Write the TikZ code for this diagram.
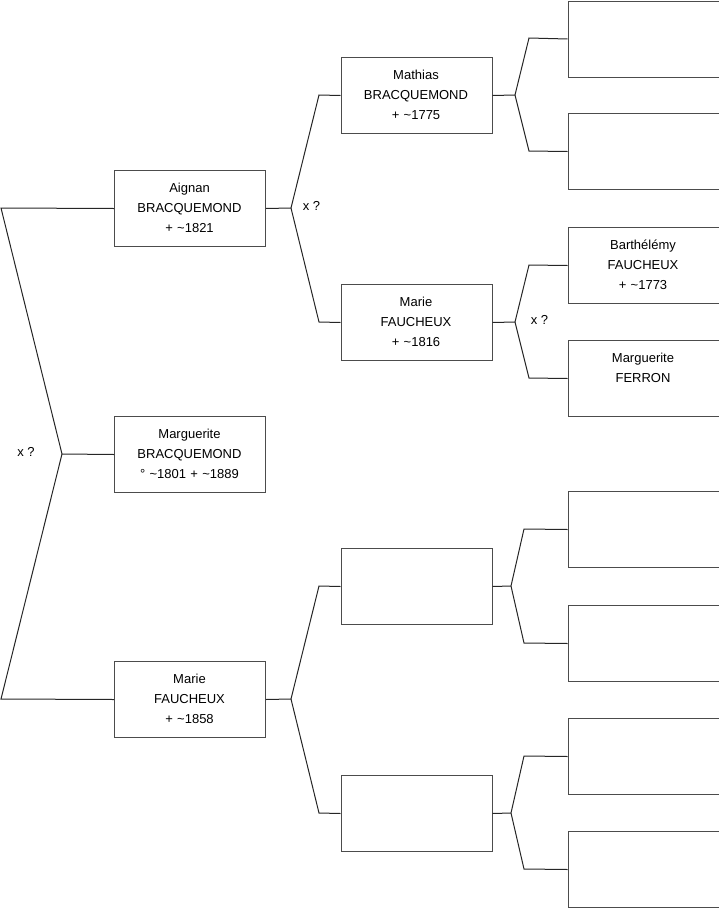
\documentclass[tikz,border=0pt]{standalone}
\usepackage{fontspec}
\setmainfont{Liberation Sans}
\begin{document}
\begin{tikzpicture}[x=1pt,y=-1pt,
  box/.style={draw=black!70, line width=1pt, minimum width=151pt, minimum height=76pt, inner sep=0pt, anchor=north west},
  txt/.style={font=\fontsize{13}{20}\selectfont, align=center, text width=150pt, inner sep=0pt, anchor=base},
  link/.style={draw=black!85, line width=1pt},
  lbl/.style={font=\fontsize{13}{16}\selectfont, inner sep=0pt, anchor=base}]
\useasboundingbox (0,0) rectangle (719,908);
% column 1
\node[box] (aignan) at (114,170) {};
\node[txt] (aignant) at (189.5,192.5) {Aignan\\BRACQUEMOND\\+ \textasciitilde1821};
\node[box] (marg) at (114,416) {};
\node[txt] (margt) at (189.5,438.5) {Marguerite\\BRACQUEMOND\\\textdegree\ \textasciitilde1801 + \textasciitilde1889};
\node[box] (marie) at (114,661) {};
\node[txt] (mariet) at (189.5,683.5) {Marie\\FAUCHEUX\\+ \textasciitilde1858};
% column 2
\node[box] (mathias) at (340.5,57) {};
\node[txt] (mathiast) at (416,79.5) {Mathias\\BRACQUEMOND\\+ \textasciitilde1775};
\node[box] (mariefa) at (340.5,284) {};
\node[txt] (mariefat) at (416,306.5) {Marie\\FAUCHEUX\\+ \textasciitilde1816};
\node[box] (e21) at (340.5,548) {};
\node[box] (e22) at (340.5,775) {};
% column 3
\node[box] (r1) at (567.5,0.5) {};
\node[box] (r2) at (567.5,113) {};
\node[box] (barth) at (567.5,227) {};
\node[txt] (bartht) at (643,249.5) {Barthélémy\\FAUCHEUX\\+ \textasciitilde1773};
\node[box] (ferron) at (567.5,340) {};
\node[txt] (ferront) at (643,362.5) {Marguerite\\FERRON};
\node[box] (r5) at (567.5,491) {};
\node[box] (r6) at (567.5,605) {};
\node[box] (r7) at (567.5,718) {};
\node[box] (r8) at (567.5,831) {};
% junction coordinates
\coordinate (l0a) at (1,208);
\coordinate (l0v) at (62,454);
\coordinate (l0b) at (1,699);
\coordinate (a1v) at (291,208);
\coordinate (a1t) at (319,95);
\coordinate (a1b) at (319,322);
\coordinate (m1v) at (291,699);
\coordinate (m1t) at (319,586);
\coordinate (m1b) at (319,813);
\coordinate (b1v) at (515,95);
\coordinate (b1t) at (529,38);
\coordinate (b1b) at (529,151);
\coordinate (b2v) at (515,322);
\coordinate (b2t) at (529,265);
\coordinate (b2b) at (529,378);
\coordinate (b3v) at (511,586);
\coordinate (b3t) at (524,529);
\coordinate (b3b) at (524,643);
\coordinate (b4v) at (511,813);
\coordinate (b4t) at (524,756);
\coordinate (b4b) at (524,869);
% connectors
\draw[link] (aignan.west) -- (l0a) -- (l0v) -- (marg.west);
\draw[link] (l0v) -- (l0b) -- (marie.west);
\draw[link] (aignan.east) -- (a1v) -- (a1t) -- (mathias.west);
\draw[link] (a1v) -- (a1b) -- (mariefa.west);
\draw[link] (marie.east) -- (m1v) -- (m1t) -- (e21.west);
\draw[link] (m1v) -- (m1b) -- (e22.west);
\draw[link] (mathias.east) -- (b1v) -- (b1t) -- (r1.west);
\draw[link] (b1v) -- (b1b) -- (r2.west);
\draw[link] (mariefa.east) -- (b2v) -- (b2t) -- (barth.west);
\draw[link] (b2v) -- (b2b) -- (ferron.west);
\draw[link] (e21.east) -- (b3v) -- (b3t) -- (r5.west);
\draw[link] (b3v) -- (b3b) -- (r6.west);
\draw[link] (e22.east) -- (b4v) -- (b4t) -- (r7.west);
\draw[link] (b4v) -- (b4b) -- (r8.west);
% marriage labels
\node[lbl] (x0) at (26,456) {x ?};
\node[lbl] (x1) at (311.5,210) {x ?};
\node[lbl] (x2) at (539.5,324) {x ?};
\end{tikzpicture}
\end{document}
